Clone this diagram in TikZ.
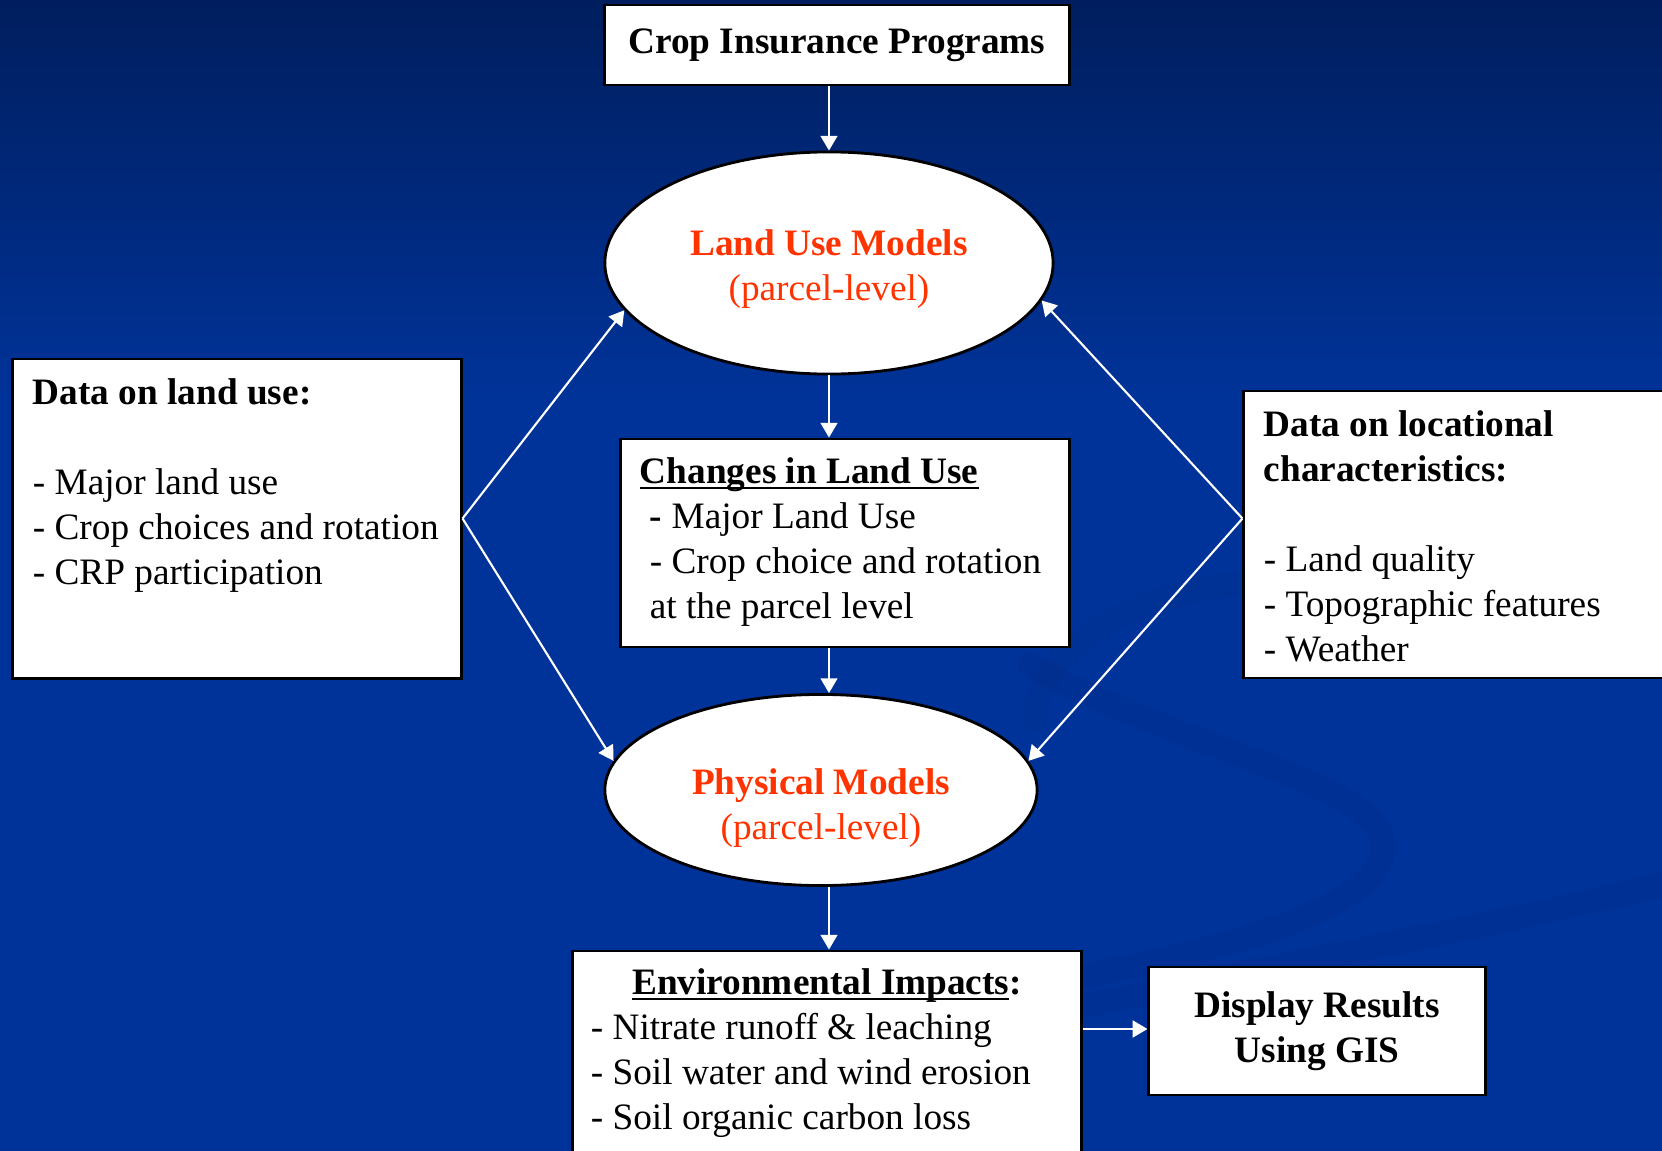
\documentclass[tikz,border=0pt]{standalone}
\usepackage{fontspec}
\setmainfont{Liberation Serif}
\usetikzlibrary{shapes.geometric,arrows.meta}
\definecolor{bgtop}{HTML}{001E5E}
\definecolor{bgmain}{HTML}{003399}
\definecolor{swirlblue}{HTML}{002C88}
\definecolor{modelred}{HTML}{FF3300}
\newcommand{\txtsize}{\fontsize{10.6pt}{12.8pt}\selectfont}
\newcommand{\boxtext}[3]{\parbox[c][#1][t]{#2}{\raggedright\txtsize #3}}
\newcommand{\modeltext}[3]{\parbox{3cm}{\centering\txtsize\vspace*{#1}\textbf{#2}\\#3}}
\newcommand{\undertext}[1]{\leavevmode\setbox0\hbox{#1}\rlap{\rule[-1.5pt]{\wd0}{0.6pt}}\box0}
\tikzset{
	panel/.style={draw=black, line width=0.8pt, fill=white}, % white boxes
	model/.style={ellipse, draw=black, line width=0.8pt, fill=white, inner sep=0pt, text=modelred}, % the two models
	flow/.style={white, line width=0.6pt, -{Triangle[width=4.8pt,length=4.2pt]}}, % white arrows
	swirl/.style={swirlblue, line width=7pt, opacity=0.35, line cap=round}
}
\begin{document}
\begin{tikzpicture}[x=0.01cm, y=-0.01cm]
	% Page and background
	\useasboundingbox (0,0) rectangle (1662,1151);
	\clip (0,0) rectangle (1662,1151);
	\shade [top color=bgtop, bottom color=bgmain] (0,0) rectangle (1662,400);
	\fill [bgmain] (0,399) rectangle (1662,1151);
	% Swirl in the background
	\draw [swirl] (1030,665) .. controls (1200,760) and (1430,790) .. (1375,870)
		.. controls (1330,930) and (1160,960) .. (1020,990);
	\draw [swirl] (1090,1005) .. controls (1300,960) and (1500,925) .. (1680,880);
	\draw [swirl, opacity=0.2] (1035,720) .. controls (1040,610) and (1250,545) .. (1430,600);
	% Nodes
	\node [panel, minimum width=4.64cm, minimum height=0.8cm, font=\txtsize\bfseries] (crop) at (837,45) {Crop Insurance Programs};
	\node [model, minimum width=4.48cm, minimum height=2.22cm] (landuse) at (829,263)
		{\modeltext{0.13cm}{Land Use Models}{(parcel-level)}};
	\node [panel, inner sep=0.19cm] (changes) at (845,543)
		{\boxtext{1.7cm}{4.1cm}{\undertext{\textbf{Changes in Land Use}}\\
		\hspace*{0.1cm}\textbf{-} Major Land Use\\
		\hspace*{0.1cm}- Crop choice and rotation\\
		\hspace*{0.1cm}at the parcel level}};
	\node [model, minimum width=4.32cm, minimum height=1.91cm] (physical) at (821,790)
		{\modeltext{0.37cm}{Physical Models}{(parcel-level)}};
	\node [panel, inner sep=0.2cm] (ldata) at (237,518.5)
		{\boxtext{2.79cm}{4.08cm}{\textbf{Data on land use:}\\[12.8pt]
		- Major land use\\
		- Crop choices and rotation\\
		- CRP participation}};
	\node [panel, inner sep=0.2cm] (rdata) at (1472,534.5)
		{\boxtext{2.47cm}{4.16cm}{\textbf{Data on locational}\\
		\textbf{characteristics:}\\[12.8pt]
		- Land quality\\
		- Topographic features\\
		- Weather}};
	\node [panel, inner sep=0.18cm] (env) at (827,1066)
		{\boxtext{1.94cm}{4.72cm}{\makebox[\linewidth]{\undertext{\textbf{Environmental Impacts}}\textbf{:}}\\
		- Nitrate runoff \& leaching\\
		- Soil water and wind erosion\\
		- Soil organic carbon loss}};
	\node [panel, minimum width=3.36cm, minimum height=1.28cm, align=center, font=\txtsize\bfseries] (display) at (1317,1031)
		{Display Results\\Using GIS};
	% Arrows
	\draw [flow] (crop.south -| landuse) -- (landuse.north);
	\draw [flow] (landuse.south) -- (landuse.south |- changes.north);
	\draw [flow] (landuse |- changes.south) -- (landuse |- physical.north);
	\draw [flow] (landuse |- physical.south) -- (landuse |- env.north);
	\draw [flow] (env.east |- 0,1029) -- (display.west |- 0,1029);
	\draw [flow] (ldata.east) -- (landuse.193);
	\draw [flow] (ldata.east) -- (physical.172);
	\draw [flow] (rdata.west |- ldata.east) -- (landuse.350);
	\draw [flow] (rdata.west |- ldata.east) -- (physical.8);
\end{tikzpicture}
\end{document}
